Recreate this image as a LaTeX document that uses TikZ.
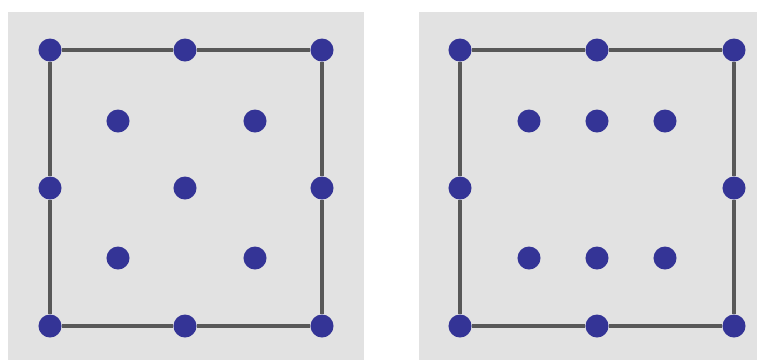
\documentclass[tikz,border=0pt]{standalone}
\usetikzlibrary{positioning}
\definecolor{dotBlue}{RGB}{52,52,150}
\definecolor{panelGray}{RGB}{226,226,226}
\definecolor{edgeGray}{RGB}{88,88,88}
\begin{document}
\begin{tikzpicture}[x=0.01cm, y=-0.01cm,
    pt/.style={circle, fill=dotBlue, inner sep=0pt, minimum size=0.23cm},
    edge/.style={edgeGray, line width=0.04cm}]
  \useasboundingbox (0,0) rectangle (757,360);
  % Panels
  \fill[panelGray] (8,12) rectangle (364,360);
  \fill[panelGray] (419,12) rectangle (757,360);
  % Left square: border points
  \node[pt] (lnw) at (50,50) {};
  \node[pt] (ln)  at (185,50) {};
  \node[pt] (lne) at (322,50) {};
  \node[pt] (lw)  at (50,188) {};
  \node[pt] (le)  at (322,188) {};
  \node[pt] (lsw) at (50,326) {};
  \node[pt] (ls)  at (185,326) {};
  \node[pt] (lse) at (322,326) {};
  % Left square: inner points
  \node[pt] (li1) at (118,121) {};
  \node[pt] (li2) at (255,121) {};
  \node[pt] (li3) at (185,188) {};
  \node[pt] (li4) at (118,258) {};
  \node[pt] (li5) at (255,258) {};
  % Right square: border points
  \node[pt] (rnw) at (460,50) {};
  \node[pt] (rn)  at (597,50) {};
  \node[pt] (rne) at (734,50) {};
  \node[pt] (rw)  at (460,188) {};
  \node[pt] (re)  at (734,188) {};
  \node[pt] (rsw) at (460,326) {};
  \node[pt] (rs)  at (597,326) {};
  \node[pt] (rse) at (734,326) {};
  % Right square: inner points
  \node[pt] (ri1) at (529,121) {};
  \node[pt] (ri2) at (597,121) {};
  \node[pt] (ri3) at (665,121) {};
  \node[pt] (ri4) at (529,258) {};
  \node[pt] (ri5) at (597,258) {};
  \node[pt] (ri6) at (665,258) {};
  % Edges
  \draw[edge] (lnw) -- (ln);  \draw[edge] (ln) -- (lne);
  \draw[edge] (lne) -- (le);  \draw[edge] (le) -- (lse);
  \draw[edge] (lse) -- (ls);  \draw[edge] (ls) -- (lsw);
  \draw[edge] (lsw) -- (lw);  \draw[edge] (lw) -- (lnw);
  \draw[edge] (rnw) -- (rn);  \draw[edge] (rn) -- (rne);
  \draw[edge] (rne) -- (re);  \draw[edge] (re) -- (rse);
  \draw[edge] (rse) -- (rs);  \draw[edge] (rs) -- (rsw);
  \draw[edge] (rsw) -- (rw);  \draw[edge] (rw) -- (rnw);
\end{tikzpicture}
\end{document}
